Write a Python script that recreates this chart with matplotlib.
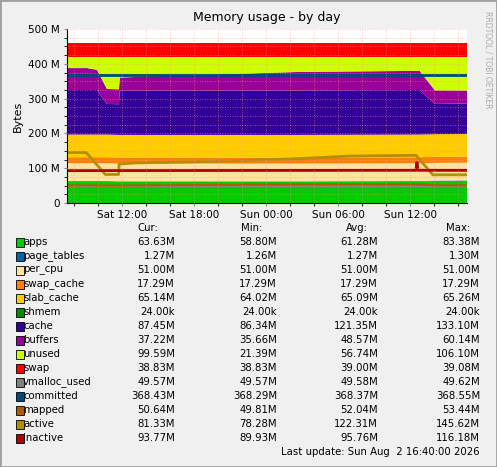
import matplotlib
matplotlib.use("Agg")
import matplotlib.pyplot as plt
import numpy as np
from matplotlib.patches import Rectangle

# time in hours since Sat 00:00
hours = [7.4, 9.07, 9.9, 10.73, 11.73, 11.8, 26.8, 36.8, 38.07, 40.75]
apps = [62, 62, 62, 62, 61, 61, 61, 62, 63, 63.6]
page_tables = [1.3] * 10
per_cpu = [51.0] * 10
swap_cache = [17.29] * 10
slab_cache = [65.1] * 10
shmem = [0.024] * 10
cache = [128, 128, 128, 88, 88, 128, 128, 128, 87, 87.5]
buffers = [63, 63, 58, 43, 43, 37, 53, 55, 39, 37.2]
swap = [39.0] * 10
vmalloc_used = [49.57] * 10
committed = [368.4] * 10
mapped = [50.5, 50.5, 50.5, 50.0, 50.0, 50.0, 53.4, 53.4, 50.6, 50.6]
act_h = [7.4, 9.0, 10.6, 11.7, 11.75, 13.0, 20.0, 27.0, 31.0, 36.5, 37.9, 40.75]
active = [145, 145, 82, 82, 112, 115, 120, 128, 135, 137, 81, 81]
inact_h = [7.4, 36.5, 36.55, 36.6, 36.65, 40.75]
inactive = [93, 94, 116, 116, 94, 93.8]
TOTAL = 420.0

names = ["apps", "page_tables", "per_cpu", "swap_cache", "slab_cache", "shmem", "cache",
         "buffers", "unused", "swap", "vmalloc_used", "committed", "mapped", "active", "inactive"]
colors = ["#00CC00", "#0066B3", "#FFE3A0", "#FF8000", "#FFCC00", "#008F00", "#330099",
          "#990099", "#CCFF00", "#FF0000", "#808080", "#00487D", "#B35A00", "#B38F00", "#B30000"]
cur = ["63.63M", "1.27M", "51.00M", "17.29M", "65.14M", "24.00k", "87.45M", "37.22M", "99.59M",
       "38.83M", "49.57M", "368.43M", "50.64M", "81.33M", "93.77M"]
mins = ["58.80M", "1.26M", "51.00M", "17.29M", "64.02M", "24.00k", "86.34M", "35.66M", "21.39M",
        "38.83M", "49.57M", "368.29M", "49.81M", "78.28M", "89.93M"]
avgs = ["61.28M", "1.27M", "51.00M", "17.29M", "65.09M", "24.00k", "121.35M", "48.57M", "56.74M",
        "39.00M", "49.58M", "368.37M", "52.04M", "122.31M", "95.76M"]
maxs = ["83.38M", "1.30M", "51.00M", "17.29M", "65.26M", "24.00k", "133.10M", "60.14M", "106.10M",
        "39.08M", "49.62M", "368.55M", "53.44M", "145.62M", "116.18M"]
xtick_h = [12, 18, 24, 30, 36]
xtick_labels = ["Sat 12:00", "Sat 18:00", "Sun 00:00", "Sun 06:00", "Sun 12:00"]

W, H = 497, 467
fig = plt.figure(figsize=(W / 100, H / 100), dpi=100, facecolor="#F0F0F0")
fig.patches.append(Rectangle((0, 0), 1, 1, transform=fig.transFigure, fill=False,
                             edgecolor="#A0A0A0", lw=2))
ax = fig.add_axes([67 / W, (H - 203) / H, 400 / W, (203 - 29) / H])
ax.set_facecolor("white")

base = np.array([apps, page_tables, per_cpu, swap_cache, slab_cache, shmem, cache, buffers], float)
unused = TOTAL - base.sum(axis=0)
layers = list(base) + [unused, np.array(swap)]
ax.stackplot(hours, layers, colors=colors[:10], lw=0)
ax.plot(hours, vmalloc_used, color=colors[10], lw=1.2)
ax.plot(hours, committed, color=colors[11], lw=2)
ax.plot(hours, mapped, color=colors[12], lw=1.5)
ax.plot(act_h, active, color=colors[13], lw=2)
ax.plot(inact_h, inactive, color=colors[14], lw=2)

ax.set_xlim(hours[0], hours[-1])
ax.set_ylim(0, 500)
ax.set_yticks([0, 100, 200, 300, 400, 500])
ax.set_yticklabels(["0", "100 M", "200 M", "300 M", "400 M", "500 M"], fontsize=7.5)
ax.set_xticks(xtick_h)
ax.set_xticklabels(xtick_labels, fontsize=7.5)
ax.set_xticks(np.arange(8, 41, 2), minor=True)
ax.set_yticks(np.arange(0, 500, 25), minor=True)
ax.grid(True, which="both", color="#FF9090", ls=(0, (1, 2)), lw=0.6, alpha=0.7)
ax.set_axisbelow(False)
for s in ["top", "right"]:
    ax.spines[s].set_visible(False)
ax.tick_params(length=2, color="#888888", pad=3)
ax.set_ylabel("Bytes", fontsize=8)
ax.set_title("Memory usage - by day", fontsize=9, pad=6)
fig.text(488 / W, 1 - 60 / H, "RRDTOOL / TOBI OETIKER", rotation=270, fontsize=5.5,
         color="#AAAAAA", ha="center", va="center")

fs = 7.3
y0 = 228
for lbl, x in [("Cur:", 148), ("Min:", 252), ("Avg:", 357), ("Max:", 458)]:
    fig.text(x / W, 1 - y0 / H, lbl, fontsize=fs, ha="center", va="center")
colx = [175, 277, 378, 480]
for i, n in enumerate(names):
    y = 242 + i * 14.0
    fig.patches.append(Rectangle((16 / W, 1 - (y + 4.5) / H), 8 / W, 9 / H,
                                 transform=fig.transFigure, facecolor=colors[i],
                                 edgecolor="black", lw=0.6))
    fig.text(23 / W, 1 - y / H, n, fontsize=fs, va="center")
    for cx, vals in zip(colx, [cur, mins, avgs, maxs]):
        fig.text(cx / W, 1 - y / H, vals[i], fontsize=fs, ha="right", va="center")
fig.text(480 / W, 1 - 452 / H, "Last update: Sun Aug  2 16:40:00 2026", fontsize=fs,
         ha="right", va="center")
fig.savefig("out.png", dpi=100, facecolor=fig.get_facecolor())
